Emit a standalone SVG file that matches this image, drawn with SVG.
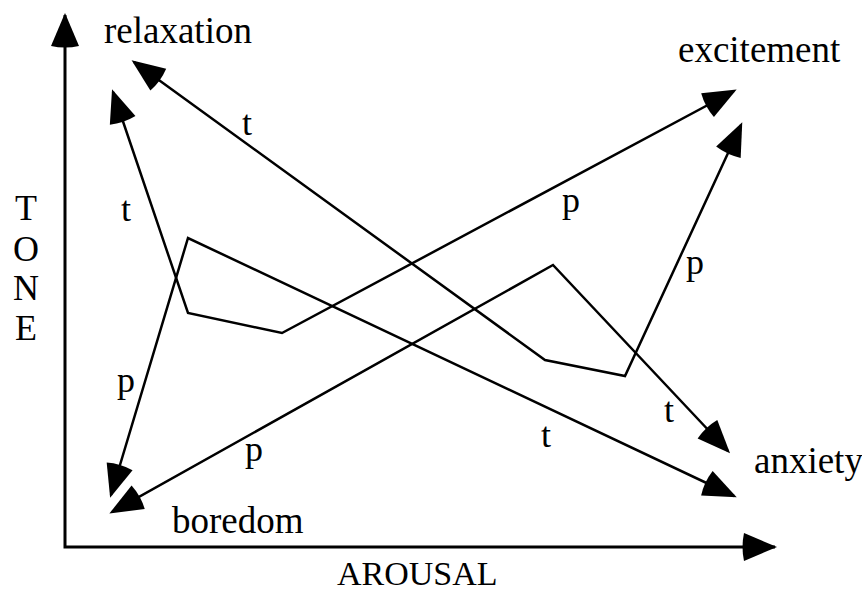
<svg xmlns="http://www.w3.org/2000/svg" width="862" height="593" viewBox="0 0 862 593">
  <style>
    text { font-family: 'Liberation Serif', 'DejaVu Serif', 'Times New Roman', serif; font-size: 37px; fill: #000; }
    .lbl { font-size: 36px; }
    .axis { fill: none; stroke: #000; stroke-width: 3; stroke-linejoin: miter; }
    .conn { fill: none; stroke: #000; stroke-width: 2.5; stroke-linejoin: miter; }
  </style>
  <defs>
    <marker id="arrow" markerUnits="userSpaceOnUse" markerWidth="40" markerHeight="40" viewBox="-4 0 40 28" refX="30" refY="13.5" orient="auto-start-reverse" overflow="visible">
      <path d="M0,0 Q-3,13.5 0,27 L33,13.5 Z" fill="#000"/>
    </marker>
    <marker id="axisArrow" markerUnits="userSpaceOnUse" markerWidth="40" markerHeight="40" viewBox="-4 0 40 28" refX="31" refY="14" orient="auto-start-reverse" overflow="visible">
      <path d="M0,0 Q-3,14 0,28 L33,14 Z" fill="#000"/>
    </marker>
  </defs>

  <g id="axes">
    <path class="axis" d="M65,15 L65,547 L775,547" marker-start="url(#axisArrow)" marker-end="url(#axisArrow)"/>
    <text x="26" y="220" text-anchor="middle" style="font-size:36px">T</text>
    <text x="26" y="261" text-anchor="middle" style="font-size:36px">O</text>
    <text x="26" y="300" text-anchor="middle" style="font-size:36px">N</text>
    <text x="26" y="340" text-anchor="middle" style="font-size:36px">E</text>
    <text x="337" y="585" style="font-size:34px">AROUSAL</text>
  </g>

  <g id="node-relaxation">
    <text x="104" y="43">relaxation</text>
  </g>
  <g id="node-excitement">
    <text x="678" y="62">excitement</text>
  </g>
  <g id="node-anxiety">
    <text x="754" y="473">anxiety</text>
  </g>
  <g id="node-boredom">
    <text x="172" y="533">boredom</text>
  </g>

  <g id="connectors">
    <path class="conn" d="M134,62 L545,360 L625,376 L741,125" marker-start="url(#arrow)" marker-end="url(#arrow)"/>
    <path class="conn" d="M111,495 L188,238 L734,496" marker-start="url(#arrow)" marker-end="url(#arrow)"/>
    <path class="conn" d="M113,92 L188,313 L282,333 L734,91" marker-start="url(#arrow)" marker-end="url(#arrow)"/>
    <path class="conn" d="M112,512 L553,265 L728,451" marker-start="url(#arrow)" marker-end="url(#arrow)"/>
    <text class="lbl" x="242" y="135">t</text>
    <text class="lbl" x="121" y="221">t</text>
    <text class="lbl" x="117" y="392">p</text>
    <text class="lbl" x="245" y="461">p</text>
    <text class="lbl" x="562" y="212">p</text>
    <text class="lbl" x="686" y="274">p</text>
    <text class="lbl" x="664" y="422">t</text>
    <text class="lbl" x="541" y="447">t</text>
  </g>
</svg>
